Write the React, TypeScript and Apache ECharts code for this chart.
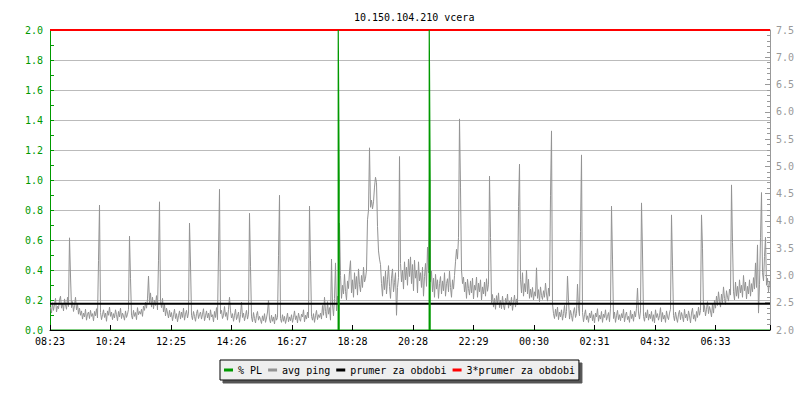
import React, { useEffect, useRef } from "react";
import * as echarts from "echarts";

const chartTitle = "10.150.104.210 vcera";
const timeLabels = ["08:23", "10:24", "12:25", "14:26", "16:27", "18:28", "20:28", "22:29", "00:30", "02:31", "04:32", "06:33"];
const labelStepMinutes = 121;
const spanMinutes = 1440;
const sampleStartMinute = 1;
const sampleStepMinutes = 2;

// avg ping (ms), one value every 2 minutes (one row = one hour)
const avgPing = [
  2.42, 2.31, 2.50, 2.36, 2.47, 2.58, 2.33, 2.44, 2.39, 2.55, 2.62, 2.40, 2.49, 2.35, 2.57, 2.46, 2.38, 2.60, 2.43, 3.69, 2.99, 2.41, 2.52, 2.34, 2.45, 2.60, 2.37, 2.48, 2.29, 2.40,
  2.27, 2.35, 2.20, 2.31, 2.24, 2.38, 2.18, 2.29, 2.33, 2.21, 2.36, 2.25, 2.30, 2.17, 2.34, 2.26, 2.39, 2.22, 3.27, 4.29, 2.32, 2.19, 2.28, 2.37, 2.23, 2.31, 2.16, 2.35, 2.27, 2.42,
  2.25, 2.33, 2.19, 2.30, 2.22, 2.37, 2.28, 2.17, 2.34, 2.24, 2.40, 2.21, 2.31, 2.26, 2.18, 2.35, 2.23, 2.29, 2.38, 3.72, 2.95, 2.27, 2.20, 2.36, 2.25, 2.32, 2.19, 2.41, 2.28, 2.34,
  2.29, 2.38, 2.25, 2.44, 2.36, 2.51, 2.40, 2.57, 2.99, 2.48, 2.68, 2.42, 2.60, 2.39, 2.55, 2.45, 2.63, 2.37, 3.28, 4.35, 2.52, 2.41, 2.58, 2.33, 2.47, 2.26, 2.40, 2.31, 2.22, 2.36,
  2.24, 2.32, 2.17, 2.28, 2.38, 2.21, 2.30, 2.15, 2.26, 2.35, 2.20, 2.33, 2.23, 2.40, 2.18, 2.29, 2.36, 2.22, 2.31, 3.96, 3.21, 2.27, 2.19, 2.34, 2.25, 2.16, 2.30, 2.37, 2.21, 2.28,
  2.33, 2.20, 2.29, 2.39, 2.17, 2.26, 2.35, 2.22, 2.31, 2.18, 2.37, 2.24, 2.28, 2.15, 2.34, 2.23, 2.41, 2.19, 3.45, 4.58, 2.30, 2.36, 2.21, 2.27, 2.43, 2.25, 2.32, 2.18, 2.38, 2.60,
  2.35, 2.22, 2.30, 2.16, 2.27, 2.38, 2.19, 2.25, 2.33, 2.14, 2.28, 2.51, 2.23, 2.31, 2.17, 2.26, 2.36, 2.20, 2.29, 4.14, 3.17, 2.24, 2.15, 2.32, 2.21, 2.13, 2.27, 2.34, 2.18, 2.25,
  2.19, 2.12, 2.26, 2.17, 2.30, 2.14, 2.22, 2.33, 2.55, 2.20, 2.13, 2.27, 2.16, 2.24, 2.11, 2.29, 2.18, 2.23, 3.36, 4.47, 2.21, 2.14, 2.28, 2.16, 2.25, 2.12, 2.20, 2.31, 2.15, 2.24,
  2.17, 2.28, 2.14, 2.23, 2.35, 2.19, 2.26, 2.13, 2.31, 2.21, 2.16, 2.29, 2.24, 2.37, 2.15, 2.27, 2.20, 2.33, 2.22, 4.27, 3.27, 2.25, 2.18, 2.30, 2.14, 2.26, 2.36, 2.19, 2.28, 2.23,
  2.31, 2.20, 2.45, 2.27, 2.60, 2.34, 2.22, 2.52, 2.29, 2.41, 2.18, 3.30, 2.47, 2.26, 2.58, 3.23, 2.35, 2.62, 2.44, 3.96, 3.00, 2.58, 2.82, 2.66, 3.02, 2.71, 2.55, 2.90, 2.76, 3.08,
  3.27, 2.68, 2.92, 2.60, 3.05, 2.75, 2.98, 2.64, 3.12, 2.83, 2.70, 3.00, 2.78, 3.15, 2.88, 2.95, 3.10, 4.02, 4.20, 5.34, 4.25, 4.38, 4.22, 4.35, 4.62, 4.80, 4.70, 3.90, 3.45, 3.30,
  3.20, 2.85, 2.62, 2.98, 2.74, 3.08, 2.66, 2.92, 3.18, 2.80, 2.58, 2.95, 3.12, 2.70, 2.87, 3.05, 2.27, 2.78, 2.96, 5.18, 3.22, 2.88, 3.10, 2.75, 3.25, 2.92, 3.15, 2.82, 3.30, 2.98,
  3.34, 2.85, 3.20, 2.72, 3.28, 2.95, 3.10, 2.68, 3.25, 2.90, 3.05, 2.78, 3.15, 2.62, 2.98, 3.22, 2.80, 3.52, 3.05, 4.83, 2.88, 3.08, 2.70, 2.95, 2.60, 3.02, 2.75, 2.92, 2.58, 2.85,
  2.98, 2.66, 2.90, 2.72, 3.05, 2.62, 2.85, 2.94, 2.70, 3.08, 2.78, 2.60, 2.92, 2.75, 3.00, 3.25, 3.48, 3.30, 3.70, 5.87, 4.62, 3.10, 2.85, 2.97, 2.70, 2.88, 2.58, 2.93, 2.76, 2.64,
  2.90, 2.68, 2.95, 2.57, 2.82, 2.73, 2.97, 2.60, 2.86, 2.70, 2.92, 2.55, 2.79, 2.66, 2.88, 2.62, 2.94, 2.71, 2.84, 4.82, 3.70, 2.50, 2.65, 2.42, 2.58, 2.38, 2.63, 2.47, 2.68, 2.41,
  2.55, 2.39, 2.62, 2.45, 2.37, 2.58, 2.48, 2.66, 2.40, 2.53, 2.44, 2.60, 2.36, 2.50, 2.64, 2.42, 2.57, 2.46, 4.26, 5.04, 2.92, 2.68, 3.05, 2.62, 2.85, 2.70, 3.10, 2.66, 2.93, 2.58,
  2.75, 2.60, 2.78, 2.55, 2.70, 2.62, 3.14, 2.58, 2.74, 2.52, 2.79, 2.63, 2.56, 2.72, 2.60, 2.86, 2.66, 2.53, 2.77, 2.62, 4.46, 5.65, 2.48, 2.30, 2.21, 2.38, 2.25, 2.42, 2.19, 2.33,
  2.24, 2.37, 2.18, 2.30, 2.45, 2.22, 2.34, 2.99, 2.55, 2.20, 2.36, 2.27, 2.16, 2.33, 2.41, 2.23, 2.30, 2.84, 2.40, 2.26, 3.81, 5.21, 2.32, 2.15, 2.28, 2.37, 2.19, 2.26, 2.14, 2.31,
  2.22, 2.35, 2.17, 2.28, 2.13, 2.31, 2.24, 2.39, 2.16, 2.27, 2.20, 2.34, 2.14, 2.29, 2.23, 2.37, 2.18, 2.25, 2.32, 2.15, 2.40, 4.27, 3.30, 2.21, 2.33, 2.14, 2.26, 2.36, 2.19, 2.28,
  2.17, 2.30, 2.22, 2.38, 2.15, 2.27, 2.33, 2.19, 2.25, 2.14, 2.36, 2.21, 2.29, 2.16, 2.34, 2.24, 2.40, 2.77, 2.31, 2.20, 2.35, 4.33, 3.43, 2.25, 2.16, 2.32, 2.22, 2.37, 2.18, 2.29,
  2.21, 2.34, 2.16, 2.28, 2.13, 2.37, 2.23, 2.30, 2.18, 2.26, 2.41, 2.15, 2.32, 2.20, 2.27, 2.14, 2.35, 2.24, 2.19, 2.31, 2.38, 4.11, 3.19, 2.27, 2.17, 2.33, 2.22, 2.14, 2.29, 2.36,
  2.19, 2.32, 2.25, 2.15, 2.38, 2.22, 2.29, 2.17, 2.35, 2.26, 2.13, 2.31, 2.40, 2.20, 2.28, 2.16, 2.34, 2.23, 2.42, 2.27, 2.36, 4.11, 3.50, 2.33, 2.45, 2.26, 2.38, 2.52, 2.30, 2.43,
  2.35, 2.24, 2.48, 2.31, 2.55, 2.40, 2.62, 2.45, 2.70, 2.52, 2.42, 2.66, 2.50, 2.79, 2.58, 2.47, 2.72, 2.60, 2.53, 2.75, 2.64, 4.66, 3.60, 2.70, 2.55, 2.88, 2.62, 2.80, 2.58, 2.92,
  2.68, 2.82, 2.60, 3.00, 2.72, 2.88, 2.57, 2.80, 2.66, 2.92, 2.62, 2.85, 2.70, 2.96, 2.75, 3.23, 2.78, 3.56, 2.31, 2.84, 3.69, 4.52, 3.05, 2.90, 3.35, 3.70, 2.82, 2.95, 2.70, 2.88,
];

// % packet loss events (minutes from start, value)
const plTimes = [0, 576.3, 576.5, 578.3, 578.3, 758.3, 758.5, 760.3, 760.3, 1440];
const plValues = [0, 0, 2.0, 1.0, 0, 0, 2.0, 1.0, 0, 0];

const meanPing = 2.48;
const tripleMeanPing = 7.5;

const seriesNames = ["% PL", "avg ping", "prumer za obdobi", "3*prumer za obdobi"];
const seriesColors = ["#009900", "#939393", "#000000", "#ff0000"];

const mono = "'DejaVu Sans Mono', monospace";

export default function App() {
  const ref = useRef<HTMLDivElement>(null);
  useEffect(() => {
    if (!ref.current) return;
    const chart = echarts.init(ref.current, undefined, { renderer: "svg" });
    const pingData = avgPing.map((v, i) => [sampleStartMinute + i * sampleStepMinutes, v]);
    const plData = plTimes.map((t, i) => [t, plValues[i]]);
    const option: any = {
      animation: false,
      backgroundColor: "#ffffff",
      title: {
        text: chartTitle,
        left: 349,
        top: 7,
        textStyle: { fontFamily: mono, fontSize: 10, fontWeight: "normal", color: "#000" },
      },
      grid: { left: 50, right: 30, top: 30, bottom: 70, containLabel: false },
      legend: {
        data: seriesNames,
        left: 220,
        top: 360,
        orient: "horizontal",
        icon: "rect",
        itemWidth: 9,
        itemHeight: 3,
        itemGap: 6,
        padding: [5, 4, 5, 4],
        backgroundColor: "#eeeeee",
        borderColor: "#000000",
        borderWidth: 1,
        borderRadius: 0,
        shadowColor: "#555555",
        shadowOffsetX: 3,
        shadowOffsetY: 3,
        shadowBlur: 0,
        textStyle: { fontFamily: mono, fontSize: 10, color: "#000" },
      },
      xAxis: {
        type: "value",
        min: 0,
        max: spanMinutes,
        interval: labelStepMinutes,
        z: 10,
        axisLine: { show: true, lineStyle: { color: "#000", width: 1 } },
        axisTick: { show: true, inside: true, length: 5, lineStyle: { color: "#000" } },
        axisLabel: {
          margin: 6,
          fontFamily: mono,
          fontSize: 10,
          color: "#000",
          formatter: (v: number) => {
            const k = Math.round(v / labelStepMinutes);
            return Math.abs(v - k * labelStepMinutes) < 0.5 && timeLabels[k] ? timeLabels[k] : "";
          },
        },
        splitLine: { show: false },
      },
      yAxis: [
        {
          type: "value",
          min: 0,
          max: 2,
          interval: 0.2,
          position: "left",
          axisLine: { show: true, lineStyle: { color: "#009900" } },
          axisTick: { show: true, inside: true, length: 4, lineStyle: { color: "#009900" } },
          minorTick: { show: true, splitNumber: 2, length: 4, lineStyle: { color: "#009900" } },
          axisLabel: {
            formatter: (v: number) => v.toFixed(1),
            color: "#009900",
            fontFamily: mono,
            fontSize: 10,
            margin: 7,
          },
          splitLine: { show: true, lineStyle: { color: "#bbbbbb", width: 1 } },
        },
        {
          type: "value",
          min: 2,
          max: 7.5,
          interval: 0.5,
          position: "right",
          axisLine: { show: true, lineStyle: { color: "#999999" } },
          axisTick: { show: true, inside: true, length: 5, lineStyle: { color: "#999999" } },
          minorTick: { show: true, splitNumber: 5, length: 3, lineStyle: { color: "#999999" } },
          axisLabel: {
            formatter: (v: number) => v.toFixed(1),
            color: "#999999",
            fontFamily: mono,
            fontSize: 10,
            margin: 6,
          },
          splitLine: { show: false },
        },
      ],
      series: [
        {
          name: seriesNames[0],
          type: "line",
          yAxisIndex: 0,
          data: plData,
          symbol: "none",
          showSymbol: false,
          color: seriesColors[0],
          lineStyle: { width: 1.2, color: seriesColors[0] },
          z: 5,
        },
        {
          name: seriesNames[1],
          type: "line",
          yAxisIndex: 1,
          data: pingData,
          symbol: "none",
          showSymbol: false,
          color: seriesColors[1],
          lineStyle: { width: 1, color: seriesColors[1] },
          z: 2,
        },
        {
          name: seriesNames[2],
          type: "line",
          yAxisIndex: 1,
          data: [[0, meanPing], [spanMinutes, meanPing]],
          symbol: "none",
          showSymbol: false,
          color: seriesColors[2],
          lineStyle: { width: 2, color: seriesColors[2] },
          z: 3,
        },
        {
          name: seriesNames[3],
          type: "line",
          yAxisIndex: 1,
          data: [[0, tripleMeanPing], [spanMinutes, tripleMeanPing]],
          symbol: "none",
          showSymbol: false,
          color: seriesColors[3],
          lineStyle: { width: 2, color: seriesColors[3] },
          z: 3,
        },
      ],
    };
    chart.setOption(option);
    return () => chart.dispose();
  }, []);
  return (
    <div
      ref={ref}
      style={{ position: "fixed", left: 0, top: 0, width: 800, height: 400, background: "#fff" }}
    />
  );
}
